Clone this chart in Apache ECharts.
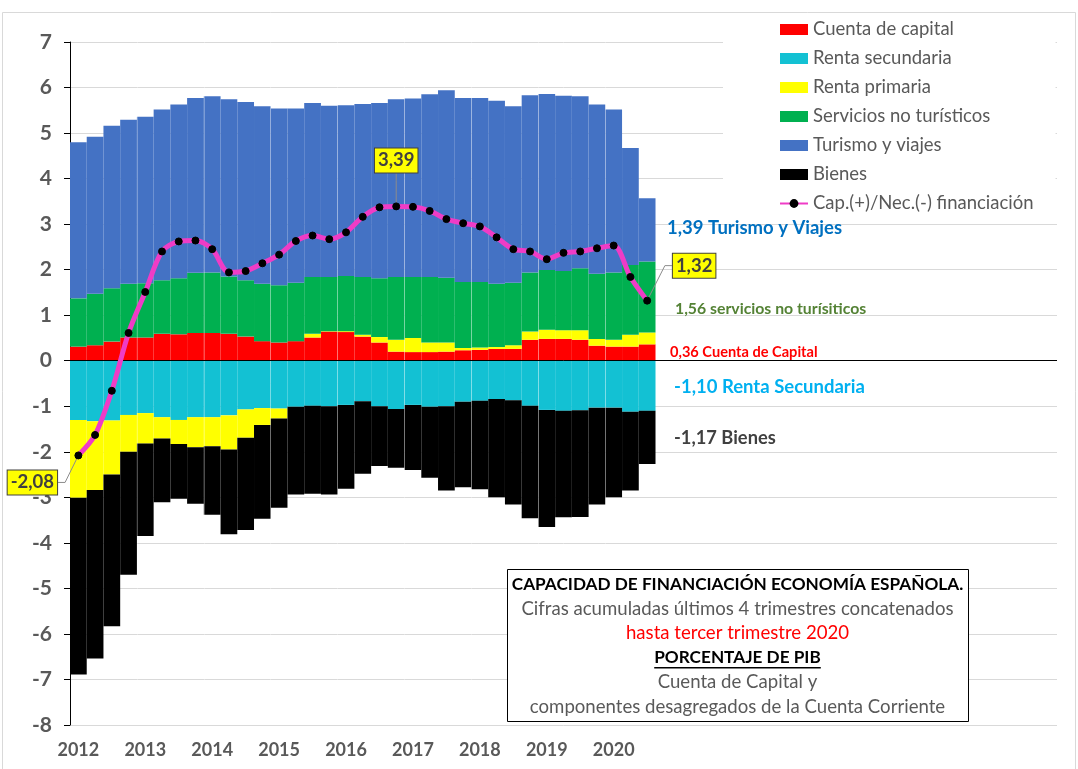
<!DOCTYPE html>
<html>
<head>
<meta charset="utf-8">
<script src="https://cdn.jsdelivr.net/npm/echarts@6/dist/echarts.min.js"></script>
<style>
  html, body { margin: 0; padding: 0; background: #fff; }
  #chart { width: 1078px; height: 769px; }
</style>
</head>
<body>
<div id="chart"></div>
<script>
// trimestres, cifras acumuladas 4 trimestres, % PIB
var quarters = [
  '2012T1','2012T2','2012T3','2012T4','2013T1','2013T2','2013T3','2013T4',
  '2014T1','2014T2','2014T3','2014T4','2015T1','2015T2','2015T3','2015T4',
  '2016T1','2016T2','2016T3','2016T4','2017T1','2017T2','2017T3','2017T4',
  '2018T1','2018T2','2018T3','2018T4','2019T1','2019T2','2019T3','2019T4',
  '2020T1','2020T2','2020T3'
]
var yearLabels = ['2012','2013','2014','2015','2016','2017','2018','2019','2020']

var cuentaCapital = [0.31,0.34,0.42,0.51,0.51,0.59,0.58,0.61,0.61,0.59,0.53,0.43,0.40,0.43,0.51,0.64,0.63,0.53,0.40,0.20,0.19,0.19,0.20,0.23,0.24,0.26,0.26,0.46,0.48,0.48,0.46,0.33,0.31,0.31,0.36]
var rentaSecundaria = [-1.30,-1.33,-1.31,-1.19,-1.15,-1.24,-1.30,-1.24,-1.24,-1.20,-1.07,-1.04,-1.05,-1.01,-0.99,-1.00,-0.97,-0.89,-1.00,-1.06,-0.97,-1.01,-1.00,-0.90,-0.88,-0.84,-0.87,-0.99,-1.08,-1.10,-1.09,-1.03,-1.03,-1.12,-1.10]
var rentaPrimaria = [-1.71,-1.51,-1.19,-0.81,-0.67,-0.47,-0.53,-0.66,-0.64,-0.75,-0.62,-0.37,-0.22,0.00,0.08,0.01,0.02,0.04,0.12,0.26,0.31,0.21,0.20,0.05,0.05,0.04,0.08,0.18,0.20,0.19,0.21,0.15,0.15,0.26,0.26]
var serviciosNoTuristicos = [1.06,1.13,1.17,1.18,1.19,1.18,1.23,1.32,1.33,1.26,1.24,1.26,1.26,1.28,1.25,1.19,1.21,1.27,1.29,1.38,1.34,1.44,1.42,1.45,1.44,1.39,1.37,1.30,1.31,1.30,1.36,1.43,1.48,1.53,1.56]
var turismoViajes = [3.43,3.45,3.57,3.60,3.66,3.75,3.82,3.84,3.87,3.89,3.91,3.90,3.88,3.83,3.82,3.76,3.75,3.80,3.85,3.90,3.92,4.01,4.12,4.04,4.04,4.02,3.88,3.89,3.87,3.85,3.78,3.72,3.58,2.57,1.39]
var bienes = [-3.88,-3.70,-3.33,-2.70,-2.03,-1.40,-1.20,-1.24,-1.50,-1.86,-2.03,-2.06,-1.96,-1.93,-1.93,-1.94,-1.84,-1.59,-1.31,-1.29,-1.43,-1.56,-1.85,-1.88,-1.94,-2.16,-2.29,-2.47,-2.57,-2.34,-2.34,-2.13,-1.97,-1.73,-1.17]
var capNecFinanciacion = [-2.08,-1.63,-0.66,0.61,1.51,2.40,2.62,2.64,2.45,1.94,1.97,2.14,2.33,2.63,2.75,2.67,2.82,3.16,3.37,3.39,3.38,3.29,3.11,3.02,2.95,2.71,2.45,2.40,2.23,2.37,2.40,2.47,2.53,1.84,1.32]

// puntos con etiqueta amarilla y desplazamiento de la etiqueta
var labelOffsets = { 0: [-46, 27], 19: [0, -46], 34: [47, -35] }

// el eje llega mas alla de 2020 (huecos vacios a la derecha)
var cats = quarters.slice()
for (var i = 0; i < 24; i++) cats.push('vacio' + i)

var FONT = 'Lato'

function dec (v) {
  return v.toFixed(2).replace('.', ',')
}

function textWidth (txt, font) {
  var ctx = document.createElement('canvas').getContext('2d')
  ctx.font = font
  return ctx.measureText(txt).width
}

function barSerie (name, data, color) {
  return {
    name: name,
    type: 'bar',
    stack: 'total',
    data: data,
    barCategoryGap: '0%',
    itemStyle: { color: color },
    emphasis: { disabled: true }
  }
}

var lineData = capNecFinanciacion.map(function (v, i) {
  if (labelOffsets[i]) return { value: v, label: { show: true } }
  return v
})

var series = [
  barSerie('Cuenta de capital', cuentaCapital, '#FF0000'),
  barSerie('Renta secundaria', rentaSecundaria, '#13C1D3'),
  barSerie('Renta primaria', rentaPrimaria, '#FFFF00'),
  barSerie('Servicios no turísticos', serviciosNoTuristicos, '#00B050'),
  barSerie('Turismo y viajes', turismoViajes, '#4472C4'),
  barSerie('Bienes', bienes, '#000000'),
  {
    name: 'Cap.(+)/Nec.(-) financiación',
    type: 'line',
    data: lineData,
    z: 5,
    smooth: 0.3,
    symbol: 'circle',
    symbolSize: 7,
    itemStyle: { color: '#000', borderColor: '#000' },
    lineStyle: { color: '#EF3CC6', width: 5 },
    label: {
      show: false,
      formatter: function (p) { return dec(p.value) },
      fontFamily: FONT,
      fontSize: 18.5,
      fontWeight: 'bold',
      color: '#404040',
      backgroundColor: '#FFFF00',
      borderColor: '#404040',
      borderWidth: 1,
      padding: [3, 3, 2, 3]
    },
    labelLine: { show: true, length2: 7, lineStyle: { color: '#8c8c8c', width: 1 } },
    labelLayout: function (p) {
      var off = labelOffsets[p.dataIndex]
      if (!off) return
      return {
        x: p.rect.x + p.rect.width / 2 + off[0],
        y: p.rect.y + p.rect.height / 2 + off[1],
        align: 'center',
        verticalAlign: 'middle'
      }
    },
    emphasis: { disabled: true }
  }
]

// linea del cero
series[5].markLine = {
  silent: true,
  symbol: 'none',
  label: { show: false },
  lineStyle: { color: '#000', width: 1, type: 'solid' },
  data: [{ yAxis: 0 }]
}

var legendNames = series.map(function (s) { return s.name })

// anotaciones de la derecha
var notes = [
  { text: '1,39 Turismo y Viajes', y: 228, x: 667, size: 18.5, color: '#0070C0' },
  { text: '1,56 servicios no turísiticos', y: 309, x: 675, size: 15.8, color: '#548235' },
  { text: '0,36 Cuenta de Capital', y: 352, x: 670, size: 14.6, color: '#FF0000' },
  { text: '-1,10 Renta Secundaria', y: 387, x: 674, size: 18.5, color: '#00B0F0' },
  { text: '-1,17 Bienes', y: 438, x: 674, size: 18.3, color: '#404040' }
]

// cuadro de texto
var boxLines = [
  { text: 'CAPACIDAD DE FINANCIACIÓN ECONOMÍA ESPAÑOLA.', bold: true, color: '#000' },
  { text: 'Cifras acumuladas últimos 4 trimestres concatenados', color: '#595959' },
  { text: 'hasta tercer trimestre 2020', color: '#FF0000' },
  { text: 'PORCENTAJE DE PIB', bold: true, color: '#000', underline: true },
  { text: 'Cuenta de Capital y', color: '#595959' },
  { text: 'componentes desagregados de la Cuenta Corriente', color: '#595959' }
]

var graphics = [
  {
    type: 'rect', z: -1, silent: true,
    shape: { x: 2.5, y: 12.5, width: 1073, height: 780 },
    style: { fill: 'none', stroke: '#d9d9d9', lineWidth: 1 }
  }
]
notes.forEach(function (n) {
  graphics.push({
    type: 'text', x: n.x, y: n.y, z: 10, silent: true,
    style: {
      text: n.text, fill: n.color,
      font: 'bold ' + n.size + 'px ' + FONT,
      textAlign: 'left', textVerticalAlign: 'middle', align: 'left', verticalAlign: 'middle'
    }
  })
})

var boxX = 507, boxY = 569, boxW = 461, boxH = 152
graphics.push({
  type: 'rect', z: 10, silent: true,
  shape: { x: boxX + 0.5, y: boxY + 0.5, width: boxW, height: boxH },
  style: { fill: '#fff', stroke: '#000', lineWidth: 1 }
})
boxLines.forEach(function (l, i) {
  var font = (l.bold ? 'bold ' : '') + (l.bold ? '17.2px ' : '18.6px ') + FONT
  var cy = boxY + 15 + i * 24.6
  graphics.push({
    type: 'text', x: boxX + boxW / 2, y: cy, z: 11, silent: true,
    style: {
      text: l.text, fill: l.color, font: font,
      textAlign: 'center', textVerticalAlign: 'middle', align: 'center', verticalAlign: 'middle'
    }
  })
  if (l.underline) {
    var w = textWidth(l.text, font)
    graphics.push({
      type: 'line', z: 11, silent: true,
      shape: { x1: boxX + boxW / 2 - w / 2, y1: cy + 10, x2: boxX + boxW / 2 + w / 2, y2: cy + 10 },
      style: { stroke: '#000', lineWidth: 1.5 }
    })
  }
})

var chart = echarts.init(document.getElementById('chart'), null, { renderer: 'canvas' })
chart.setOption({
  animation: false,
  backgroundColor: '#fff',
  grid: { left: 70, right: 21, top: 42, bottom: 44, containLabel: false },
  legend: {
    orient: 'vertical',
    left: 723,
    top: 14,
    padding: [6, 22, 8, 56],
    backgroundColor: '#fff',
    itemWidth: 28,
    itemHeight: 11,
    itemGap: 10,
    selectedMode: false,
    textStyle: { fontFamily: FONT, fontSize: 18.5, color: '#595959', lineHeight: 19 },
    data: legendNames.map(function (n, i) {
      return i < 6 ? { name: n, icon: 'rect' } : { name: n }
    })
  },
  xAxis: {
    type: 'category',
    data: cats,
    z: 3,
    axisLine: { show: false },
    axisTick: { show: false },
    axisLabel: {
      interval: function (idx) { return idx < quarters.length && idx % 4 === 0 },
      formatter: function (v, idx) { return yearLabels[idx / 4] },
      fontFamily: FONT,
      fontSize: 18,
      fontWeight: 'bold',
      color: '#595959',
      margin: 16
    },
    splitLine: {
      show: true,
      interval: function (idx) { return idx > 0 && idx < quarters.length && idx % 4 === 0 },
      lineStyle: { color: 'rgba(255,255,255,0.3)', width: 1 }
    }
  },
  yAxis: {
    type: 'value',
    min: -8,
    max: 7,
    interval: 1,
    axisLine: { show: true, lineStyle: { color: '#000', width: 1 } },
    axisTick: { show: true, length: 6, lineStyle: { color: '#000' } },
    axisLabel: {
      fontFamily: FONT,
      fontSize: 21,
      fontWeight: 'bold',
      color: '#595959',
      margin: 18
    },
    splitLine: { lineStyle: { color: '#d9d9d9', width: 1 } }
  },
  series: series,
  graphic: graphics
})
</script>
</body>
</html>
